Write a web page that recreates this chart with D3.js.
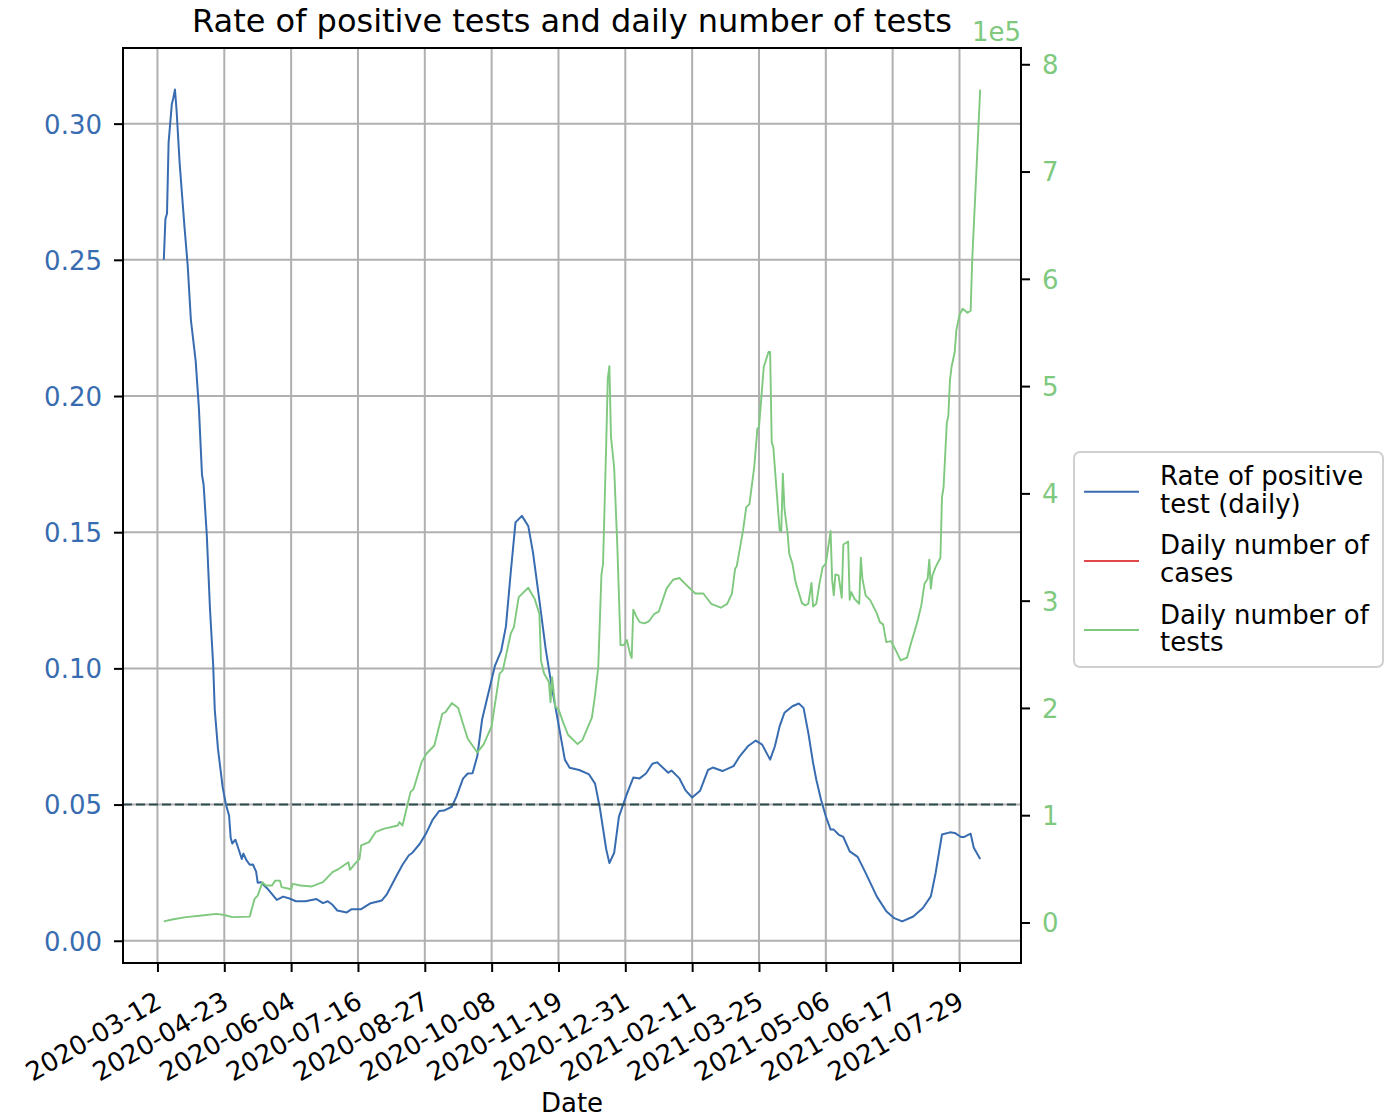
<!DOCTYPE html>
<html><head><meta charset="utf-8">
<script src="https://cdn.jsdelivr.net/npm/d3@7"></script>
<style>body{margin:0;background:#fff;} text{font-family:"DejaVu Sans",sans-serif;}</style>
</head><body><svg id="chart" width="1384" height="1117"></svg>
<script>
const rateDates = ["2020-03-16","2020-03-17","2020-03-18","2020-03-19","2020-03-21","2020-03-22","2020-03-23","2020-03-24","2020-03-26","2020-03-29","2020-03-31","2020-04-02","2020-04-05","2020-04-07","2020-04-09","2020-04-10","2020-04-12","2020-04-14","2020-04-16","2020-04-17","2020-04-19","2020-04-22","2020-04-24","2020-04-26","2020-04-27","2020-04-28","2020-04-30","2020-05-02","2020-05-04","2020-05-05","2020-05-07","2020-05-09","2020-05-11","2020-05-13","2020-05-14","2020-05-16","2020-05-20","2020-05-26","2020-05-30","2020-06-03","2020-06-07","2020-06-13","2020-06-20","2020-06-24","2020-06-27","2020-06-30","2020-07-03","2020-07-09","2020-07-12","2020-07-18","2020-07-24","2020-07-31","2020-08-03","2020-08-09","2020-08-13","2020-08-17","2020-08-19","2020-08-24","2020-08-28","2020-09-01","2020-09-05","2020-09-08","2020-09-13","2020-09-16","2020-09-20","2020-09-23","2020-09-26","2020-09-29","2020-10-02","2020-10-05","2020-10-10","2020-10-14","2020-10-17","2020-10-20","2020-10-23","2020-10-27","2020-10-31","2020-11-03","2020-11-07","2020-11-11","2020-11-15","2020-11-20","2020-11-23","2020-11-26","2020-12-02","2020-12-08","2020-12-12","2020-12-15","2020-12-19","2020-12-21","2020-12-24","2020-12-27","2021-01-01","2021-01-05","2021-01-09","2021-01-13","2021-01-17","2021-01-20","2021-01-27","2021-01-29","2021-02-03","2021-02-07","2021-02-11","2021-02-16","2021-02-21","2021-02-24","2021-03-02","2021-03-09","2021-03-13","2021-03-18","2021-03-23","2021-03-27","2021-04-01","2021-04-04","2021-04-07","2021-04-10","2021-04-15","2021-04-19","2021-04-22","2021-04-25","2021-04-28","2021-04-30","2021-05-03","2021-05-06","2021-05-09","2021-05-11","2021-05-14","2021-05-17","2021-05-21","2021-05-26","2021-05-31","2021-06-07","2021-06-13","2021-06-18","2021-06-23","2021-06-30","2021-07-06","2021-07-11","2021-07-14","2021-07-18","2021-07-23","2021-07-26","2021-07-30","2021-08-01","2021-08-05","2021-08-07","2021-08-11"];
const rateValues = [0.250,0.265,0.267,0.293,0.307,0.3095,0.3125,0.305,0.285,0.262,0.248,0.228,0.213,0.196,0.171,0.1675,0.149,0.122,0.1015,0.085,0.0706,0.0563,0.0501,0.046,0.0379,0.0357,0.0371,0.0336,0.030,0.032,0.0295,0.0279,0.028,0.0254,0.0213,0.0215,0.0192,0.0150,0.0162,0.0155,0.0145,0.0145,0.0153,0.0138,0.0145,0.0132,0.0111,0.0104,0.0116,0.0116,0.0138,0.0148,0.0169,0.0236,0.0279,0.0314,0.0322,0.0357,0.0396,0.0445,0.0476,0.0478,0.0492,0.0531,0.0595,0.0614,0.0615,0.0678,0.0812,0.0886,0.1008,0.1064,0.1155,0.1352,0.1536,0.156,0.1523,0.1425,0.125,0.107,0.0925,0.0763,0.0665,0.0635,0.0627,0.0612,0.0577,0.0488,0.0336,0.0285,0.0323,0.0456,0.0539,0.0599,0.0596,0.0614,0.065,0.0655,0.0617,0.0625,0.0596,0.0551,0.0526,0.0551,0.0627,0.0636,0.0623,0.0641,0.0678,0.0714,0.0735,0.072,0.0665,0.0714,0.0788,0.0837,0.0861,0.0871,0.0855,0.0763,0.0653,0.0592,0.0518,0.0457,0.0408,0.0408,0.039,0.0381,0.0328,0.0308,0.0249,0.0163,0.0108,0.0083,0.0071,0.0089,0.012,0.0163,0.0249,0.039,0.0398,0.0396,0.0381,0.0381,0.0393,0.0341,0.030];

const testDates = ["2020-03-16","2020-03-22","2020-03-30","2020-04-09","2020-04-18","2020-04-23","2020-04-28","2020-05-09","2020-05-12","2020-05-14","2020-05-17","2020-05-19","2020-05-23","2020-05-25","2020-05-28","2020-05-29","2020-06-04","2020-06-05","2020-06-10","2020-06-17","2020-06-24","2020-06-30","2020-07-04","2020-07-10","2020-07-11","2020-07-15","2020-07-17","2020-07-18","2020-07-23","2020-07-27","2020-08-01","2020-08-10","2020-08-11","2020-08-13","2020-08-18","2020-08-20","2020-08-25","2020-08-28","2020-09-02","2020-09-07","2020-09-09","2020-09-13","2020-09-17","2020-09-20","2020-09-23","2020-09-29","2020-10-03","2020-10-08","2020-10-13","2020-10-15","2020-10-20","2020-10-22","2020-10-25","2020-10-31","2020-11-04","2020-11-07","2020-11-08","2020-11-10","2020-11-13","2020-11-14","2020-11-15","2020-11-17","2020-11-19","2020-11-22","2020-11-25","2020-12-01","2020-12-04","2020-12-10","2020-12-12","2020-12-14","2020-12-16","2020-12-17","2020-12-19","2020-12-20","2020-12-21","2020-12-22","2020-12-24","2020-12-26","2020-12-28","2020-12-30","2021-01-01","2021-01-03","2021-01-04","2021-01-05","2021-01-07","2021-01-09","2021-01-12","2021-01-15","2021-01-18","2021-01-21","2021-01-26","2021-01-30","2021-02-03","2021-02-09","2021-02-13","2021-02-18","2021-02-23","2021-03-01","2021-03-05","2021-03-08","2021-03-10","2021-03-11","2021-03-15","2021-03-17","2021-03-19","2021-03-22","2021-03-24","2021-03-25","2021-03-28","2021-03-31","2021-04-01","2021-04-02","2021-04-03","2021-04-06","2021-04-07","2021-04-08","2021-04-09","2021-04-10","2021-04-12","2021-04-13","2021-04-15","2021-04-17","2021-04-21","2021-04-23","2021-04-25","2021-04-27","2021-04-28","2021-04-30","2021-05-02","2021-05-04","2021-05-06","2021-05-09","2021-05-10","2021-05-11","2021-05-12","2021-05-14","2021-05-16","2021-05-17","2021-05-20","2021-05-21","2021-05-22","2021-05-24","2021-05-27","2021-05-28","2021-05-29","2021-05-31","2021-06-03","2021-06-07","2021-06-09","2021-06-11","2021-06-13","2021-06-16","2021-06-19","2021-06-22","2021-06-26","2021-06-29","2021-07-01","2021-07-03","2021-07-05","2021-07-07","2021-07-09","2021-07-10","2021-07-11","2021-07-12","2021-07-14","2021-07-17","2021-07-18","2021-07-19","2021-07-21","2021-07-22","2021-07-23","2021-07-24","2021-07-26","2021-07-27","2021-07-29","2021-07-31","2021-08-03","2021-08-05","2021-08-06","2021-08-09","2021-08-11"];
const testValues = [1000,3000,5000,6500,8000,7000,5000,5500,22000,25000,37600,34500,34500,39000,39000,33000,31000,36000,34500,33600,37600,46900,50000,56200,49000,56200,59400,71800,74900,84200,87300,90400,93500,90400,121500,124600,149500,157300,165000,194600,196100,204500,200000,185300,171300,158500,166000,183000,231900,235000,269200,275300,303300,312000,301800,287800,244300,231900,224100,205400,228700,200800,199000,186300,175000,166300,170000,191000,212000,238000,324300,334000,446300,507300,518600,452800,423900,350000,258500,258500,263300,250400,246600,291600,285100,280000,278800,281000,287400,289700,311400,319500,321100,312200,306700,306700,297100,293400,297000,306500,329800,332000,365500,387200,390000,424500,460300,461800,517800,531800,531800,447800,443200,384200,365500,364900,418400,385700,362400,343800,334500,317300,297700,295600,297100,316400,294600,297100,315700,331300,334500,364900,318900,304900,324500,323500,302700,352400,355200,300900,308000,301800,297100,340000,320500,304900,300200,288400,280000,277900,261400,262300,253600,244300,246800,262900,272300,283200,295600,315800,320500,338200,311100,323500,331300,340000,396600,405900,465000,472700,505400,517800,531800,552000,566400,572100,568400,570300,617700,712600,776400];

const xTickLabels = ["2020-03-12","2020-04-23","2020-06-04","2020-07-16","2020-08-27","2020-10-08","2020-11-19","2020-12-31","2021-02-11","2021-03-25","2021-05-06","2021-06-17","2021-07-29"];
const rateTicks = [0, 0.05, 0.10, 0.15, 0.20, 0.25, 0.30];
const testTicks = [0, 100000, 200000, 300000, 400000, 500000, 600000, 700000, 800000];
const threshold = 0.05;
const seriesNames = ["Rate of positive\ntest (daily)", "Daily number of\ncases", "Daily number of\ntests"];
const seriesColors = ["#386cb0", "#e0484c", "#7fc97f"];
const titleText = "Rate of positive tests and daily number of tests";
const xLabelText = "Date";
const offsetText = "1e5";

const svg = d3.select("#chart");
const m = {left:123, right:1021, top:48, bottom:963};
const parse = d3.timeParse("%Y-%m-%d");
const rate = rateDates.map((d,i)=>({date:parse(d), v:rateValues[i]}));
const tests = testDates.map((d,i)=>({date:parse(d), v:testValues[i]}));
const pad = ([a,b]) => [a-0.05*(b-a), b+0.05*(b-a)];
const allD = rate.map(d=>+d.date).concat(tests.map(d=>+d.date));
const xd = pad(d3.extent(allD));
const x = d3.scaleTime().domain([new Date(xd[0]), new Date(xd[1])]).range([m.left, m.right]);
const yL = d3.scaleLinear().domain(pad(d3.extent(rateValues))).range([m.bottom, m.top]);
const yR = d3.scaleLinear().domain(pad(d3.extent(testValues))).range([m.bottom, m.top]);
const xTicks = xTickLabels.map(parse);

svg.append("defs").append("clipPath").attr("id","clip").append("rect")
  .attr("x",m.left).attr("y",m.top).attr("width",m.right-m.left).attr("height",m.bottom-m.top);

const grid = svg.append("g");
grid.selectAll("line.v").data(xTicks).join("line").attr("class","v")
  .attr("x1",d=>x(d)).attr("x2",d=>x(d)).attr("y1",m.top).attr("y2",m.bottom)
  .attr("stroke","#b0b0b0").attr("stroke-width",2);
grid.selectAll("line.h").data(rateTicks).join("line").attr("class","h")
  .attr("x1",m.left).attr("x2",m.right).attr("y1",d=>yL(d)).attr("y2",d=>yL(d))
  .attr("stroke","#b0b0b0").attr("stroke-width",2);

const plot = svg.append("g").attr("clip-path","url(#clip)");
plot.append("path").datum(rate)
  .attr("d", d3.line().x(d=>x(d.date)).y(d=>yL(d.v)))
  .attr("fill","none").attr("stroke",seriesColors[0]).attr("stroke-width",2).attr("stroke-linejoin","round");
plot.append("line").attr("x1",m.left).attr("x2",m.right).attr("y1",yL(threshold)).attr("y2",yL(threshold))
  .attr("stroke","#2f4f4f").attr("stroke-width",2).attr("stroke-dasharray","9,4");
plot.append("path").datum(tests)
  .attr("d", d3.line().x(d=>x(d.date)).y(d=>yR(d.v)))
  .attr("fill","none").attr("stroke",seriesColors[2]).attr("stroke-width",1.9).attr("stroke-linejoin","round");

const fs = 26;
const xAxis = svg.append("g").attr("transform",`translate(0,${m.bottom})`)
  .call(d3.axisBottom(x).tickValues(xTicks).tickFormat(d3.timeFormat("%Y-%m-%d")).tickSize(9).tickSizeOuter(0));
xAxis.select(".domain").remove();
xAxis.selectAll(".tick line").attr("stroke","#000").attr("stroke-width",2);
xAxis.selectAll(".tick text").attr("font-size",fs).attr("font-family","DejaVu Sans").attr("fill","#000")
  .attr("text-anchor","end").attr("x",0).attr("y",0).attr("dy","0.73em")
  .attr("transform","translate(-4,27) rotate(-30)");

const yAxisL = svg.append("g").attr("transform",`translate(${m.left},0)`)
  .call(d3.axisLeft(yL).tickValues(rateTicks).tickFormat(d3.format(".2f")).tickSize(9).tickPadding(12).tickSizeOuter(0));
yAxisL.select(".domain").remove();
yAxisL.selectAll(".tick line").attr("stroke","#000").attr("stroke-width",2);
yAxisL.selectAll(".tick text").attr("font-size",fs).attr("font-family","DejaVu Sans").attr("fill",seriesColors[0]).attr("dy","0.36em");

const yAxisR = svg.append("g").attr("transform",`translate(${m.right},0)`)
  .call(d3.axisRight(yR).tickValues(testTicks).tickFormat(d=>d3.format("d")(d/1e5)).tickSize(9).tickPadding(12).tickSizeOuter(0));
yAxisR.select(".domain").remove();
yAxisR.selectAll(".tick line").attr("stroke","#000").attr("stroke-width",2);
yAxisR.selectAll(".tick text").attr("font-size",fs).attr("font-family","DejaVu Sans").attr("fill",seriesColors[2]).attr("dy","0.36em");

svg.append("rect").attr("x",m.left).attr("y",m.top).attr("width",m.right-m.left).attr("height",m.bottom-m.top)
  .attr("fill","none").attr("stroke","#000").attr("stroke-width",2);

svg.append("text").attr("x",(m.left+m.right)/2).attr("y",32).attr("text-anchor","middle")
  .attr("font-size",32).text(titleText);
svg.append("text").attr("x",(m.left+m.right)/2).attr("y",1112).attr("text-anchor","middle")
  .attr("font-size",fs).text(xLabelText);
svg.append("text").attr("x",m.right).attr("y",41).attr("text-anchor","end")
  .attr("font-size",fs).attr("fill",seriesColors[2]).text(offsetText);

const lg = svg.append("g");
lg.append("rect").attr("x",1074).attr("y",452).attr("width",309).attr("height",215).attr("rx",6)
  .attr("fill","#fff").attr("stroke","#d0d0d0").attr("stroke-width",2);
seriesNames.forEach((name,i)=>{
  const cy = 491.7 + i*69.2;
  lg.append("line").attr("x1",1084).attr("x2",1139).attr("y1",cy).attr("y2",cy)
    .attr("stroke",seriesColors[i]).attr("stroke-width",2);
  const t = lg.append("text").attr("x",1160).attr("y",cy-6.5).attr("font-size",fs);
  name.split("\n").forEach((ln,j)=>{
    t.append("tspan").attr("x",1160).attr("dy", j===0 ? 0 : 27.5).text(ln);
  });
});
</script></body></html>
